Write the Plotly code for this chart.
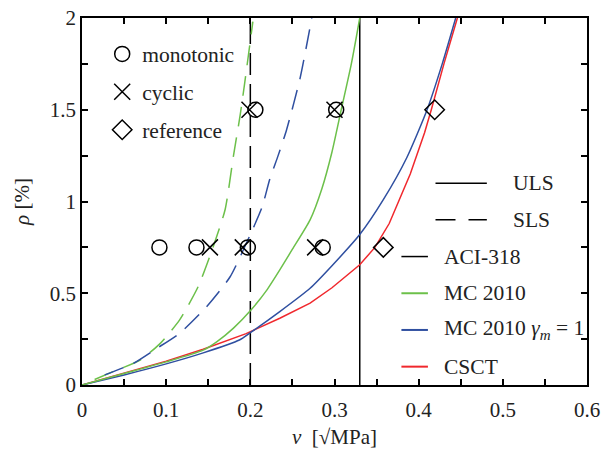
import plotly.graph_objects as go

# ---------------- data ----------------
# CSCT (solid red)
csct_v = [0, 0.05, 0.077, 0.1, 0.144, 0.195, 0.235, 0.271, 0.297, 0.33, 0.348, 0.365, 0.377, 0.39, 0.407, 0.415, 0.43, 0.446]
csct_rho = [0, 0.065, 0.1, 0.13, 0.195, 0.28, 0.364, 0.446, 0.53, 0.655, 0.75, 0.88, 1.01, 1.15, 1.375, 1.5, 1.75, 2.0]

# MC 2010 gamma_m = 1 (solid blue)
mcg_v = [0, 0.05, 0.1, 0.144, 0.187, 0.2, 0.235, 0.271, 0.297, 0.33, 0.358, 0.386, 0.41, 0.428, 0.444]
mcg_rho = [0, 0.055, 0.115, 0.175, 0.245, 0.285, 0.4, 0.527, 0.65, 0.82, 1.01, 1.24, 1.5, 1.75, 2.0]

# MC 2010 ULS (solid green)
mc_v = [0, 0.05, 0.1, 0.144, 0.16, 0.18, 0.201, 0.22, 0.235, 0.25, 0.271, 0.285, 0.297, 0.308, 0.32, 0.33]
mc_rho = [0, 0.063, 0.126, 0.19, 0.235, 0.31, 0.41, 0.52, 0.627, 0.74, 0.9, 1.07, 1.27, 1.5, 1.75, 2.0]

# MC 2010 SLS (dashed green)
mc_sls_v = [0.015, 0.037, 0.069, 0.093, 0.116, 0.138, 0.156, 0.170, 0.18, 0.188, 0.193, 0.203]
mc_sls_rho = [0.03, 0.073, 0.136, 0.227, 0.355, 0.536, 0.755, 0.955, 1.25, 1.473, 1.636, 1.98]

# MC 2010 gamma_m = 1 SLS (dashed blue)
mcg_sls_v = [0.027, 0.061, 0.089, 0.116, 0.148, 0.176, 0.199, 0.214, 0.223, 0.233, 0.243, 0.259, 0.273]
mcg_sls_rho = [0.055, 0.118, 0.2, 0.282, 0.427, 0.59, 0.81, 0.97, 1.12, 1.25, 1.39, 1.67, 2.0]

# ACI-318 limits
aci_uls_v = 0.33
aci_sls_v = 0.2

# test results
mono_v = [0.092, 0.136, 0.197, 0.286, 0.206, 0.302]
mono_rho = [0.75, 0.75, 0.75, 0.75, 1.5, 1.5]
cyc_v = [0.152, 0.191, 0.277, 0.199, 0.300]
cyc_rho = [0.75, 0.75, 0.75, 1.5, 1.5]
ref_v = [0.358, 0.419]
ref_rho = [0.75, 1.5]

x_tick_vals = [0, 0.05, 0.1, 0.15, 0.2, 0.25, 0.3, 0.35, 0.4, 0.45, 0.5, 0.55, 0.6]
x_tick_text = ["0", "", "0.1", "", "0.2", "", "0.3", "", "0.4", "", "0.5", "", "0.6"]
y_tick_vals = [0, 0.25, 0.5, 0.75, 1, 1.25, 1.5, 1.75, 2]
y_tick_text = ["0", "", "0.5", "", "1", "", "1.5", "", "2"]

GREEN = "#6cc04a"
BLUE = "#2f4fa0"
RED = "#f0282d"
FONT = "'Liberation Serif', 'Times New Roman', Times, serif"
TXT = "#222"
DASH = "20px,11px"
LEG_SIZE = 21.5

fig = go.Figure()

# ACI vertical lines
fig.add_trace(go.Scatter(x=[aci_uls_v, aci_uls_v], y=[0, 2], mode="lines",
                         line=dict(color="black", width=1.5), showlegend=False))
fig.add_trace(go.Scatter(x=[aci_sls_v, aci_sls_v], y=[0, 2], mode="lines",
                         line=dict(color="black", width=1.5, dash="22px,9px"), showlegend=False))

fig.add_trace(go.Scatter(x=mc_sls_v, y=mc_sls_rho, mode="lines", line_shape="spline",
                         line=dict(color=GREEN, width=1.5, dash=DASH, smoothing=0.6), showlegend=False))
fig.add_trace(go.Scatter(x=mcg_sls_v, y=mcg_sls_rho, mode="lines", line_shape="spline",
                         line=dict(color=BLUE, width=1.5, dash=DASH, smoothing=0.6), showlegend=False))
fig.add_trace(go.Scatter(x=csct_v, y=csct_rho, mode="lines",
                         line=dict(color=RED, width=1.5), showlegend=False))
fig.add_trace(go.Scatter(x=mcg_v, y=mcg_rho, mode="lines", line_shape="spline",
                         line=dict(color=BLUE, width=1.5, smoothing=0.6), showlegend=False))
fig.add_trace(go.Scatter(x=mc_v, y=mc_rho, mode="lines", line_shape="spline",
                         line=dict(color=GREEN, width=1.5, smoothing=0.6), showlegend=False))

# markers
fig.add_trace(go.Scatter(x=mono_v, y=mono_rho, mode="markers", name="monotonic",
                         legendgroup="a",
                         marker=dict(symbol="circle-open", size=15, color="black",
                                     line=dict(width=1.5, color="black"))))
fig.add_trace(go.Scatter(x=cyc_v, y=cyc_rho, mode="markers", name="cyclic",
                         legendgroup="b",
                         marker=dict(symbol="x-thin-open", size=16, color="black",
                                     line=dict(width=1.5, color="black"))))
fig.add_trace(go.Scatter(x=ref_v, y=ref_rho, mode="markers", name="reference",
                         legendgroup="c",
                         marker=dict(symbol="diamond-open", size=15, color="black",
                                     line=dict(width=1.5, color="black"))))

# line legend (drawn manually in data coordinates)
line_legend = [
    ("ULS", "black", None, 1.1, 0.42, 0.481, 0.51),
    ("SLS", "black", "20px,13px", 0.9, 0.42, 0.481, 0.51),
    ("ACI-318", "black", None, 0.7, 0.3795, 0.411, 0.428),
    ("MC 2010", GREEN, None, 0.5, 0.3795, 0.411, 0.428),
    ("MC 2010 <i>γ<sub>m</sub></i> = 1", BLUE, None, 0.3, 0.3795, 0.411, 0.428),
    ("CSCT", RED, None, 0.1, 0.3795, 0.411, 0.428),
]
for text, col, dash, yy, x0, x1, xt in line_legend:
    ld = dict(color=col, width=1.5 if col == "black" else 2)
    if dash:
        ld["dash"] = dash
    fig.add_shape(type="line", xref="x", yref="y", x0=x0, x1=x1, y0=yy, y1=yy, line=ld)
    fig.add_annotation(x=xt, y=yy, xref="x", yref="y", text=text, showarrow=False,
                       xanchor="left", yanchor="middle",
                       font=dict(family=FONT, size=LEG_SIZE, color=TXT))

axis_common = dict(showline=True, linecolor="black", linewidth=1.5, mirror="ticks",
                   ticks="inside", ticklen=6, tickwidth=1.5, tickcolor="black",
                   showgrid=False, zeroline=False, automargin=False,
                   tickfont=dict(family=FONT, size=21, color=TXT))

fig.update_xaxes(range=[0, 0.6], tickvals=x_tick_vals, ticktext=x_tick_text,
                 ticklabelstandoff=5,
                 title=dict(text="<i>v</i>  [√MPa]", font=dict(family=FONT, size=21, color=TXT),
                            standoff=8),
                 **axis_common)
fig.update_yaxes(range=[0, 2], tickvals=y_tick_vals, ticktext=y_tick_text,
                 title=dict(text="<i>ρ</i> [%]", font=dict(family=FONT, size=21, color=TXT),
                            standoff=14),
                 **axis_common)

fig.update_layout(
    template="none",
    width=603, height=455,
    margin=dict(l=82, r=16, t=18, b=70),
    paper_bgcolor="white", plot_bgcolor="white",
    font=dict(family=FONT, size=20, color=TXT),
    legend=dict(x=0.04, y=0.958, xanchor="left", yanchor="top",
                bgcolor="rgba(0,0,0,0)", traceorder="grouped", tracegroupgap=7,
                font=dict(family=FONT, size=LEG_SIZE, color=TXT)),
)

fig.write_html("out.html")
